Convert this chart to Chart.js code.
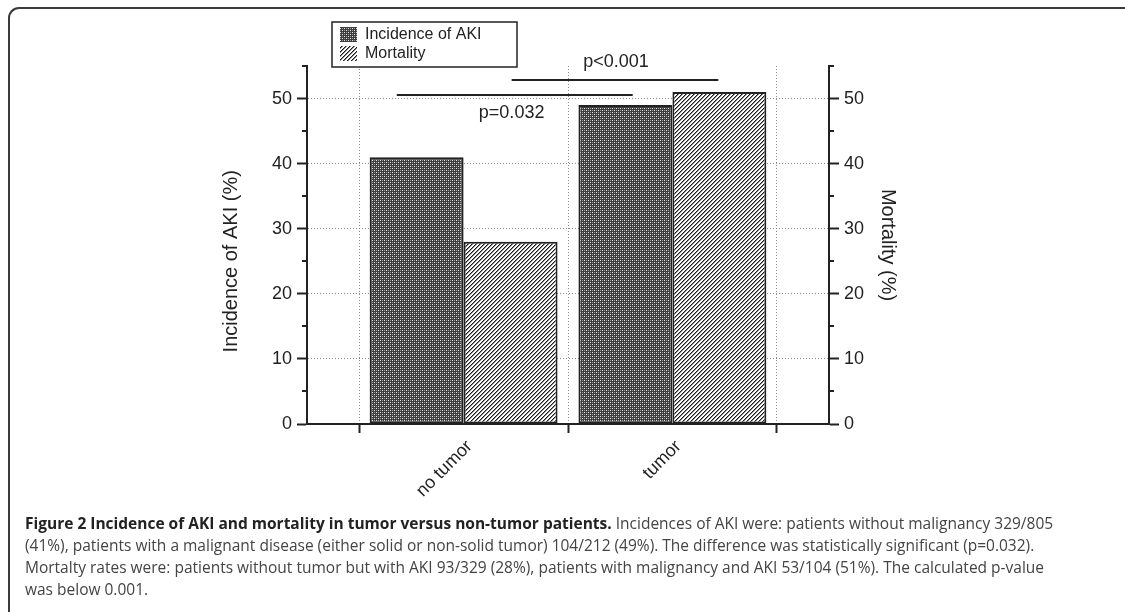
<!DOCTYPE html>
<html>
<head>
<meta charset="utf-8">
<script src="https://cdn.jsdelivr.net/npm/chart.js@4.4.1/dist/chart.umd.min.js"></script>
<style>
  html, body { margin: 0; padding: 0; background: #fff; }
  body { width: 1125px; height: 612px; position: relative; overflow: hidden; }
  #frame {
    position: absolute; left: 8px; top: 7px; width: 1130px; height: 700px;
    border-top: 2px solid #3a3a3a; border-left: 2px solid #3a3a3a;
    border-top-left-radius: 11px;
  }
  #plot { position: absolute; left: 0; top: 0; }
  #caption {
    position: absolute; left: 25px; top: 512px;
    font-family: 'Open Sans', 'Noto Sans', sans-serif; font-size: 15.5px;
    line-height: 22px; color: #444; white-space: nowrap;
  }
  #caption b { color: #222; }
</style>
</head>
<body>
<div id="frame"></div>
<canvas id="plot" width="1125" height="520"></canvas>
<div id="caption"><b>Figure 2 Incidence of AKI and mortality in tumor versus non-tumor patients.</b> Incidences of AKI were: patients without malignancy 329/805<br>(41%), patients with a malignant disease (either solid or non-solid tumor) 104/212 (49%). The difference was statistically significant (p=0.032).<br>Mortalty rates were: patients without tumor but with AKI 93/329 (28%), patients with malignancy and AKI 53/104 (51%). The calculated p-value<br>was below 0.001.</div>
<script>
// groups and values (%)
const categories = ['no tumor', 'tumor'];
const seriesNames = ['Incidence of AKI', 'Mortality'];
const incidence = [41, 49];
const mortality = [28, 51];
const yTicks = [0, 10, 20, 30, 40, 50];
const yMinorTicks = [5, 15, 25, 35, 45, 55];
const pValues = ['p=0.032', 'p<0.001'];
const leftTitle = 'Incidence of AKI (%)';
const rightTitle = 'Mortality (%)';

const ink = '#222';
const dotted = '#8c8c8c';
const family = "'Liberation Sans', Arial, sans-serif";
const font = { family, size: 18 };
const titleFont = { family, size: 20 };

// category boundaries carry the x tick marks and vertical grid lines
const boundaries = categories.map((c, i) => i - 0.5).concat(categories.length - 0.5);

// significance bars, in axis units
const brackets = [
  { from: -0.32, to: 0.81, level: 50.6, label: pValues[0], lx: 0.23, ly: 47.7 },
  { from: 0.23, to: 1.22, level: 52.8, label: pValues[1], lx: 0.73, ly: 55.6 }
];

function makePattern(size, paint) {
  const c = document.createElement('canvas');
  c.width = c.height = size;
  const g = c.getContext('2d');
  paint(g);
  return g.createPattern(c, 'repeat');
}

// dense dark check for AKI incidence
const checkFill = makePattern(4, g => {
  g.fillStyle = '#3e3e3e';
  g.fillRect(0, 0, 4, 4);
  g.fillStyle = '#e6e6e6';
  g.fillRect(0, 0, 1, 1);
  g.fillRect(2, 2, 1, 1);
  g.fillStyle = '#9a9a9a';
  g.fillRect(2, 0, 1, 1);
  g.fillRect(0, 2, 1, 1);
});

// forward diagonal hatch for mortality
const hatchFill = makePattern(4, g => {
  g.fillStyle = '#fff';
  g.fillRect(0, 0, 4, 4);
  for (let x = 0; x < 4; x++) {
    for (let y = 0; y < 4; y++) {
      const k = (x + y) % 4;
      if (k === 3) { g.fillStyle = '#1a1a1a'; g.fillRect(x, y, 1, 1); }
      if (k === 0) { g.fillStyle = '#8a8a8a'; g.fillRect(x, y, 1, 1); }
    }
  }
});

const minorTicks = {
  id: 'minorTicks',
  afterDraw(chart) {
    const { ctx, scales: { y, y2 } } = chart;
    ctx.save();
    ctx.strokeStyle = ink;
    ctx.lineWidth = 2;
    yMinorTicks.forEach(v => {
      const py = Math.round(y.getPixelForValue(v));
      ctx.beginPath();
      ctx.moveTo(y.right - 5, py);
      ctx.lineTo(y.right, py);
      ctx.moveTo(y2.left, py);
      ctx.lineTo(y2.left + 5, py);
      ctx.stroke();
    });
    ctx.restore();
  }
};

// left axis title, centred on the labelled tick range
const leftAxisTitle = {
  id: 'leftAxisTitle',
  afterDraw(chart) {
    const { ctx, scales: { y } } = chart;
    const mid = (yTicks[0] + yTicks[yTicks.length - 1]) / 2;
    ctx.save();
    ctx.translate(y.left + 31, y.getPixelForValue(mid));
    ctx.rotate(-Math.PI / 2);
    ctx.font = `${titleFont.size}px ${family}`;
    ctx.fillStyle = ink;
    ctx.textAlign = 'center';
    ctx.textBaseline = 'middle';
    ctx.fillText(leftTitle, 0, 0);
    ctx.restore();
  }
};

const significance = {
  id: 'significance',
  afterDraw(chart) {
    const { ctx, scales: { x, y } } = chart;
    ctx.save();
    ctx.strokeStyle = ink;
    ctx.lineWidth = 2;
    ctx.fillStyle = ink;
    ctx.font = `${font.size}px ${family}`;
    ctx.textAlign = 'center';
    ctx.textBaseline = 'middle';
    brackets.forEach(b => {
      const py = Math.round(y.getPixelForValue(b.level));
      ctx.beginPath();
      ctx.moveTo(x.getPixelForValue(b.from), py);
      ctx.lineTo(x.getPixelForValue(b.to), py);
      ctx.stroke();
      ctx.fillText(b.label, x.getPixelForValue(b.lx), y.getPixelForValue(b.ly));
    });
    ctx.restore();
  }
};

// boxed legend sitting over the top of the plot
const legendBox = {
  id: 'legendBox',
  afterDraw(chart) {
    const { ctx, chartArea } = chart;
    const left = chartArea.left + 25, top = 22, w = 185, h = 45;
    ctx.save();
    ctx.fillStyle = '#fff';
    ctx.fillRect(left, top, w, h);
    ctx.strokeStyle = ink;
    ctx.lineWidth = 1.5;
    ctx.strokeRect(left, top, w, h);
    ctx.font = `16px ${family}`;
    ctx.textBaseline = 'middle';
    chart.data.datasets.forEach((ds, i) => {
      const rowY = top + 5 + i * 19;
      ctx.fillStyle = ds.backgroundColor;
      ctx.fillRect(left + 8, rowY, 17, 15);
      ctx.fillStyle = ink;
      ctx.fillText(ds.label, left + 33, rowY + 8);
    });
    ctx.restore();
  }
};

new Chart(document.getElementById('plot'), {
  type: 'bar',
  data: {
    datasets: [
      {
        label: seriesNames[0],
        data: categories.map((c, i) => ({ x: i, y: incidence[i] })),
        backgroundColor: checkFill,
        yAxisID: 'y'
      },
      {
        label: seriesNames[1],
        data: categories.map((c, i) => ({ x: i, y: mortality[i] })),
        backgroundColor: hatchFill,
        yAxisID: 'y2'
      }
    ]
  },
  options: {
    responsive: false,
    animation: false,
    events: [],
    layout: { padding: { left: 200, right: 216, top: 66, bottom: 7 } },
    datasets: {
      bar: {
        xAxisID: 'x',
        categoryPercentage: 0.9,
        barPercentage: 1,
        borderColor: ink,
        borderWidth: 2,
        borderSkipped: false
      }
    },
    plugins: { legend: { display: false }, tooltip: { enabled: false } },
    scales: {
      x: {
        type: 'linear',
        position: 'bottom',
        min: -0.75,
        max: 1.75,
        bounds: 'data',
        offset: false,
        afterBuildTicks: s => { s.ticks = boundaries.map(v => ({ value: v })); },
        afterFit: s => { s.height = 9; },
        grid: { offset: false, color: dotted, lineWidth: 1, tickLength: 9, tickColor: ink, tickWidth: 2 },
        border: { color: ink, width: 2, dash: [1, 2], z: 1 },
        ticks: { display: false }
      },
      x2: {
        type: 'linear',
        position: 'bottom',
        weight: 1,
        min: -0.75,
        max: 1.75,
        bounds: 'data',
        offset: false,
        afterBuildTicks: s => { s.ticks = categories.map((c, i) => ({ value: i })); },
        afterFit: s => { s.height = 80; },
        grid: { display: false, offset: false },
        border: { display: false },
        ticks: {
          minRotation: 45,
          maxRotation: 45,
          padding: -5,
          labelOffset: 6,
          font,
          color: ink,
          callback: v => categories[v]
        }
      },
      y: {
        position: 'left',
        min: 0,
        max: 55,
        bounds: 'data',
        afterBuildTicks: s => { s.ticks = yTicks.map(v => ({ value: v })); },
        afterFit: s => { s.width = 107; },
        grid: { color: dotted, lineWidth: 1, tickLength: 10, tickColor: ink, tickWidth: 2 },
        border: { color: ink, width: 2, dash: [1, 2], z: 1 },
        ticks: { font, color: ink, padding: 5 }
      },
      y2: {
        position: 'right',
        min: 0,
        max: 55,
        bounds: 'data',
        afterBuildTicks: s => { s.ticks = yTicks.map(v => ({ value: v })); },
        afterFit: s => { s.width = 80; },
        grid: { drawOnChartArea: false, tickLength: 10, tickColor: ink, tickWidth: 2 },
        border: { color: ink, width: 2, z: 1 },
        ticks: { font, color: ink, padding: 5 },
        title: { display: true, text: rightTitle, font: titleFont, color: ink, padding: { top: 9, bottom: 0 } }
      }
    }
  },
  plugins: [minorTicks, leftAxisTitle, significance, legendBox]
});
</script>
</body>
</html>
